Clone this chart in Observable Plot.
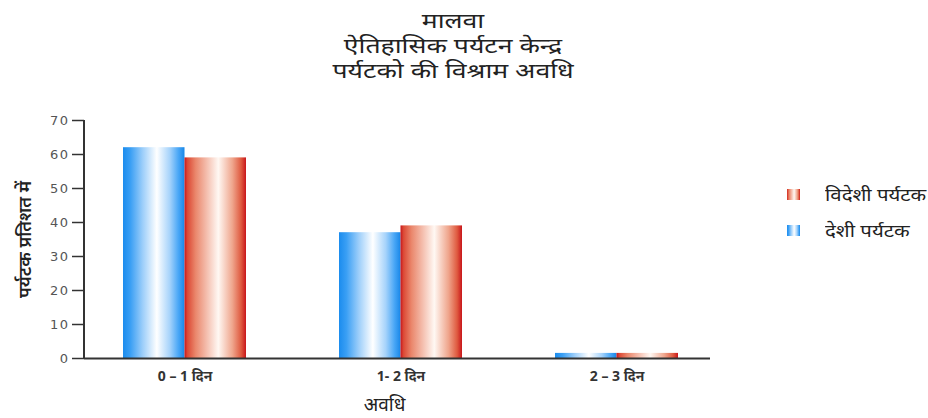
<!DOCTYPE html>
<html><head><meta charset="utf-8">
<script src="https://cdn.jsdelivr.net/npm/d3@7"></script>
<script src="https://cdn.jsdelivr.net/npm/@observablehq/plot@0.6"></script>
<style>
body{margin:0;background:#fff;font-family:"Noto Sans",sans-serif;}
#wrap{position:relative;width:928px;height:418px;overflow:hidden;background:#fff;}
#title{position:absolute;left:253px;width:400px;top:8px;text-align:center;font-size:20px;line-height:25px;color:#222;transform:scaleX(1.33);transform-origin:center;}
#chart{position:absolute;left:0;top:90px;}
.leg{position:absolute;left:787px;height:20px;font-size:17px;color:#222;display:flex;align-items:center;white-space:nowrap;}
.leg .tx{display:inline-block;transform:scaleX(1.2);transform-origin:left center;}
.sw{width:13px;height:11px;margin-right:25px;flex:none;}
#chart g[aria-label="y-axis tick label"] text{letter-spacing:1.5px;}
</style></head>
<body>
<div id="wrap">
  <div id="title"></div>
  <div id="chart"></div>
  <div id="legend"></div>
</div>
<script>
const titleLines = ["मालवा", "ऐतिहासिक पर्यटन केन्द्र", "पर्यटको की विश्राम अवधि"];
const categories = ["0 – 1 दिन", "1- 2 दिन", "2 – 3 दिन"];
const seriesNames = ["देशी पर्यटक", "विदेशी पर्यटक"];
const deshiValues = [62, 37, 1.5];
const videshiValues = [59, 39, 1.5];
const yTicks = [0, 10, 20, 30, 40, 50, 60, 70];
const yLabel = "पर्यटक प्रतिशत में";
const xLabel = "अवधि";

document.getElementById("title").innerHTML = titleLines.map(t => `<div>${t}</div>`).join("");

const deshi = categories.map((c, i) => ({cat: c, value: deshiValues[i]}));
const videshi = categories.map((c, i) => ({cat: c, value: videshiValues[i]}));

const blueStops = [[0,"#1b8cee"],[0.12,"#3a9ff4"],[0.32,"#9ccefa"],[0.55,"#ffffff"],[0.76,"#a6d3fb"],[0.9,"#4aa7f6"],[1,"#1887e8"]];
const redStops = [[0,"#c8161b"],[0.05,"#dc4a36"],[0.18,"#ea876c"],[0.55,"#fff8f3"],[0.78,"#efa58c"],[0.92,"#df5a40"],[1,"#c8161b"]];

function defs() {
  const d = d3.create("svg:defs");
  for (const [id, stops] of [["gradBlue", blueStops], ["gradRed", redStops]]) {
    const g = d.append("linearGradient").attr("id", id).attr("x1", "0%").attr("x2", "100%").attr("y1", "0%").attr("y2", "0%");
    for (const [o, c] of stops) g.append("stop").attr("offset", o).attr("stop-color", c);
  }
  return d.node();
}

function yAxisLine(index, scales, values, dimensions) {
  const l = d3.create("svg:line")
    .attr("x1", dimensions.marginLeft).attr("x2", dimensions.marginLeft)
    .attr("y1", scales.y(yTicks[yTicks.length - 1])).attr("y2", scales.y(0))
    .attr("stroke", "#333").attr("stroke-width", 2);
  return l.node();
}

const half = 61.5;

const chart = Plot.plot({
  width: 928,
  height: 328,
  marginTop: 30,
  marginBottom: 60,
  marginLeft: 84,
  marginRight: 218,
  style: {fontFamily: "'Noto Sans', sans-serif", background: "transparent"},
  x: {domain: categories, range: [76, 724], paddingInner: 0.4306, paddingOuter: 0.2153, axis: null},
  y: {domain: [0, 70], axis: null},
  marks: [
    defs,
    Plot.barY(deshi, {x: "cat", y: "value", fill: "url(#gradBlue)", insetRight: half}),
    Plot.barY(videshi, {x: "cat", y: "value", fill: "url(#gradRed)", insetLeft: half}),
    Plot.ruleY([0], {stroke: "#333", strokeWidth: 2}),
    yAxisLine,
    Plot.axisY({ticks: yTicks, tickSize: 12, tickPadding: 3, fontSize: 13, fill: "#555", stroke: "#333", strokeWidth: 1.5, label: null, fontFamily: "DejaVu Sans, sans-serif"}),
    Plot.axisX({tickSize: 0, tickPadding: 13, fontSize: 14, fill: "#333", fontWeight: "bold", label: null}),
    Plot.text([yLabel], {frameAnchor: "left", textAnchor: "middle", rotate: -90, dx: -59, text: d => d, fontSize: 18, fontWeight: 600, fill: "#222"}),
    Plot.text([xLabel], {frameAnchor: "bottom", dx: -13, dy: 52, text: d => d, fontSize: 19, fill: "#222"})
  ]
});
document.getElementById("chart").append(chart);

const legendItems = [
  {name: seriesNames[1], grad: redStops, top: 184},
  {name: seriesNames[0], grad: blueStops, top: 220}
];
const leg = document.getElementById("legend");
for (const it of legendItems) {
  const div = document.createElement("div");
  div.className = "leg";
  div.style.top = it.top + "px";
  const sw = document.createElement("span");
  sw.className = "sw";
  sw.style.background = `linear-gradient(to right, ${it.grad.map(([o, c]) => `${c} ${o * 100}%`).join(", ")})`;
  const tx = document.createElement("span");
  tx.className = "tx";
  tx.textContent = it.name;
  div.append(sw, tx);
  leg.append(div);
}
</script>
</body></html>
